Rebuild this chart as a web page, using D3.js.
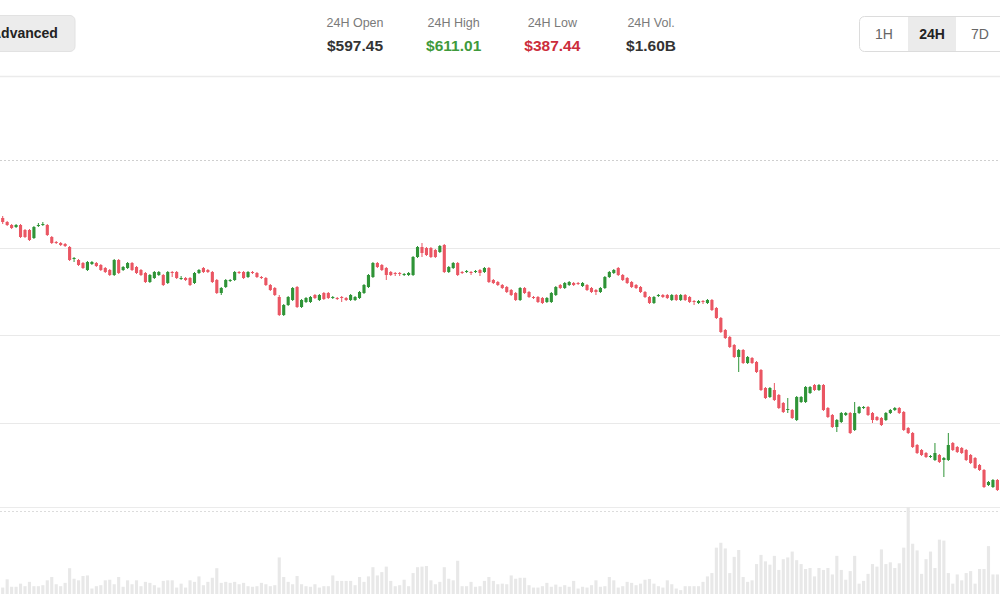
<!DOCTYPE html>
<html>
<head>
<meta charset="utf-8">
<script src="https://cdn.jsdelivr.net/npm/d3@7"></script>
<style>
    body { margin: 0; background: #fff; font-family: "Liberation Sans", Arial, Helvetica, sans-serif; }
    #chart { width: 1000px; height: 600px; overflow: hidden; }
</style>
</head>
<body>
<div id="chart"></div>
<script>
// header numbers
const statLabels = ["24H Open", "24H High", "24H Low", "24H Vol."];
const statValues = ["$597.45", "$611.01", "$387.44", "$1.60B"];
const statColors = ["#333333", "#3f9a3c", "#cc2d3b", "#333333"];
const rangeButtons = ["1H", "24H", "7D"];
const activeRange = "24H";

// price levels of the grid (no labels shown in the crop)
const gridPrices = [560, 525, 490];
const topPrice = 595;

// 5 min candles: [open, high, low, close]
const ohlc = [
    [571.8, 572.6, 569.4, 570.2], [570.2, 570.6, 568.6, 569], [569, 569.4, 567.4, 567.8], [568.2, 569.4, 567.8, 569],
    [569, 569.4, 563.8, 564.2], [567, 567.4, 563.8, 564.2], [567, 567.4, 562.6, 563], [563.8, 568.6, 563.4, 568.2],
    [568.6, 569.8, 568.2, 569], [569, 570.2, 568.6, 569.4], [569, 569.4, 564.6, 565], [564.2, 564.6, 561.4, 561.8],
    [562.2, 562.6, 561.4, 561.8], [561.8, 562.2, 560.6, 561], [561.4, 561.8, 560.2, 560.6], [560.2, 560.6, 554.6, 555],
    [555.4, 556.2, 554.2, 555.8], [555, 555.4, 552.6, 553], [553.8, 554.2, 551.4, 551.8], [551, 554.6, 550.6, 554.2],
    [553.4, 554.6, 553, 554.2], [553.8, 554.2, 552.2, 552.6], [553, 553.4, 550.6, 551], [551.8, 552.2, 549.8, 550.2],
    [551, 551.4, 548.6, 549], [549, 555.4, 548.6, 555], [555, 555.4, 549.4, 549.8], [551, 552.6, 550.6, 552.2],
    [551.8, 554.2, 551.4, 553.8], [553.8, 554.2, 550.6, 551], [552.2, 552.6, 549.4, 549.8], [551, 551.4, 548.6, 549],
    [549.8, 550.2, 545.8, 546.2], [546.2, 549.4, 545.8, 549], [547.8, 550.6, 547.4, 550.2], [549, 550.6, 548.6, 550.2],
    [549, 549.4, 544.6, 545], [545.8, 550.6, 545.4, 550.2], [550.2, 550.6, 548.2, 549.8], [550.2, 550.6, 547.4, 547.8],
    [547.4, 548.6, 547, 547.8], [547.8, 548.2, 546.6, 547], [547.8, 548.2, 544.6, 545], [545.8, 550.2, 545.4, 549.8],
    [549.8, 551.4, 549.4, 551], [551.8, 552.2, 549.8, 550.2], [551, 551.4, 549.8, 550.2], [550.2, 550.6, 545.8, 546.2],
    [547, 547.4, 541.4, 541.8], [541.8, 544.2, 541, 543.8], [544.2, 547.4, 543.8, 547], [546.6, 547.4, 546.2, 547],
    [547, 550.6, 546.6, 550.2], [550.2, 550.6, 549.4, 549.8], [550.2, 550.6, 547.4, 547.8], [548.2, 550.6, 547.8, 550.2],
    [550.2, 550.6, 549.4, 549.8], [549.8, 550.2, 547.8, 548.2], [548.2, 548.6, 547.4, 547.8], [547.8, 548.2, 544.6, 545],
    [545, 545.4, 542.6, 543], [543.8, 544.2, 540.6, 541], [540.2, 541, 532.6, 533], [533, 537.4, 532.6, 537],
    [537, 540.6, 536.6, 540.2], [539, 544.2, 538.6, 543.8], [544.2, 544.6, 535.8, 536.2], [536.2, 539.4, 535.8, 539],
    [538.2, 540.2, 537.8, 539.8], [538.2, 540.6, 537.8, 540.2], [541, 541.4, 539.4, 539.8], [539, 541.4, 538.6, 541],
    [541.8, 542.2, 539, 539.4], [541.8, 542.2, 539.4, 539.8], [539.8, 540.6, 539.4, 540.2], [539.8, 540.2, 539, 539.4],
    [540.2, 540.6, 538.2, 539.8], [539.8, 540.2, 538.6, 539], [539, 541.4, 538.6, 541], [539, 540.6, 538.6, 540.2],
    [539.8, 542.6, 539.4, 542.2], [541.8, 545.4, 541.4, 545], [544.2, 549.4, 543.8, 549], [548.2, 554.2, 547.8, 553.8],
    [553.8, 554.2, 551.8, 552.2], [553, 553.4, 550.6, 551], [551.8, 552.2, 547, 549], [550.2, 550.6, 548.6, 549],
    [549.8, 550.2, 548.6, 549.4], [549.8, 550.2, 548.6, 549.4], [549, 549.8, 548.6, 549.4], [549, 550.2, 548.6, 549.8],
    [549, 556.6, 548.6, 556.2], [556.2, 560.6, 555.8, 560.2], [560.2, 561.8, 556.2, 557.8], [559.8, 560.2, 556.6, 557],
    [559.8, 560.2, 555.8, 556.2], [559, 559.4, 555.8, 556.2], [558.2, 561, 557.8, 560.6], [561, 561.4, 549.8, 550.2],
    [550.2, 552.6, 549.8, 552.2], [551.8, 554.2, 551.4, 553.8], [553.8, 554.2, 548.6, 549], [550.2, 550.6, 549.4, 549.8],
    [550.2, 551, 549.8, 550.6], [550.2, 550.6, 549, 549.8], [550.2, 551, 549.8, 550.6], [551, 551.4, 548.6, 549.8],
    [550.2, 552.2, 549.8, 551.8], [551.8, 552.2, 545.8, 546.2], [547, 547.4, 545.4, 545.8], [546.2, 546.6, 544.6, 545],
    [545, 545.4, 543.4, 543.8], [544.2, 544.6, 541.8, 542.2], [543, 543.4, 540.6, 541], [541.8, 542.2, 538.6, 539],
    [539, 544.2, 538.6, 543.8], [543.8, 544.2, 541.4, 541.8], [542.2, 542.6, 539.8, 540.2], [540.2, 540.6, 539.4, 539.8],
    [540.2, 540.6, 537.8, 538.2], [539.8, 540.2, 537.4, 537.8], [538.2, 540.2, 537.8, 539.8], [538.2, 542.2, 537.8, 541.8],
    [541, 544.6, 540.6, 544.2], [545, 545.4, 543.4, 543.8], [543.8, 546.2, 543.4, 545.8], [545, 546.6, 544.6, 546.2],
    [545.8, 546.2, 544.6, 545], [545.8, 546.2, 545, 545.4], [544.6, 546.2, 544.2, 545.8], [545, 545.4, 542.6, 543],
    [543.8, 544.2, 541.8, 542.2], [543, 543.4, 541, 542.2], [542.2, 544.2, 541.8, 543.8], [543.8, 548.6, 543.4, 548.2],
    [548.2, 550.6, 547.8, 550.2], [549.8, 551.4, 549.4, 551], [551.8, 552.2, 548.6, 549], [549, 549.4, 546.6, 547],
    [547.8, 548.2, 545.4, 545.8], [546.2, 546.6, 543.8, 544.2], [545, 545.4, 543.4, 543.8], [544.2, 544.6, 541.8, 542.2],
    [542.2, 542.6, 539.8, 540.2], [540.2, 540.6, 537.4, 537.8], [537.8, 540.6, 537.4, 540.2], [540.6, 541.4, 540.2, 541],
    [541, 541.4, 539.8, 540.2], [541, 541.4, 539.4, 539.8], [539, 541.4, 538.6, 541], [541, 541.4, 538.6, 539],
    [539, 541.4, 538.6, 541], [541, 541.4, 538.6, 539], [540.2, 540.6, 537.8, 538.2], [538.6, 539, 537, 538.2],
    [537.8, 539, 537.4, 538.6], [538.6, 539, 537.4, 538.2], [537.8, 539.4, 537.4, 539], [539, 539.4, 534.6, 535],
    [535.8, 536.2, 531.4, 531.8], [531.8, 532.2, 525.8, 526.2], [527, 527.4, 523.4, 523.8], [524.2, 524.6, 519.8, 520.2],
    [521, 521.4, 515.8, 516.2], [516.2, 519.4, 510.2, 519], [519, 519.4, 513.4, 513.8], [513.8, 516.6, 513.4, 516.2],
    [515.8, 516.2, 513.4, 513.8], [514.2, 514.6, 509.8, 510.2], [511, 511.4, 502.6, 503], [503.8, 504.2, 499.4, 499.8],
    [500.2, 504.2, 499.8, 503.8], [503, 505.8, 498.6, 499], [501, 501.4, 495.4, 495.8], [497.8, 498.2, 493.8, 494.2],
    [495, 499.8, 493.8, 495.4], [495, 495.4, 491.4, 491.8], [491, 500.6, 490.6, 500.2], [498.2, 500.6, 497.8, 500.2],
    [498.2, 504.6, 497.8, 504.2], [501.8, 504.6, 501.4, 504.2], [505, 505.4, 502.6, 503], [503, 505.4, 502.6, 505],
    [505, 505.4, 494.6, 495], [495.8, 496.2, 491.8, 492.2], [493, 493.4, 487.8, 488.2], [488.2, 491.4, 486.2, 491],
    [490.2, 494.2, 489.8, 493.8], [493, 494.2, 492.6, 493.8], [493.8, 494.2, 485.4, 485.8], [487, 498.2, 486.6, 493.8],
    [493.8, 496.6, 493.4, 496.2], [495.8, 496.6, 495.4, 496.2], [496.2, 496.6, 492.6, 493], [493.8, 494.2, 489.8, 491],
    [492.2, 492.6, 490.6, 491], [491.8, 492.2, 488.6, 489], [491, 494.2, 490.6, 493.8], [493.8, 495.4, 493.4, 495],
    [495, 496.2, 494.6, 495.8], [495.8, 496.2, 493.4, 493.8], [494.2, 494.6, 486.6, 487], [487.8, 488.2, 485.4, 485.8],
    [485.8, 486.2, 479.8, 480.2], [481, 481.4, 477.4, 477.8], [479, 479.4, 476.6, 477], [477.8, 478.2, 475.8, 476.2],
    [476.2, 477, 475.8, 476.6], [475, 481.8, 474.6, 477.8], [477, 477.4, 473.8, 474.2], [475, 476.2, 468.2, 475.8],
    [475, 485.8, 474.6, 481], [481.8, 482.2, 478.6, 479], [480.2, 480.6, 477.8, 478.2], [479.8, 480.2, 477.4, 477.8],
    [479, 479.4, 474.6, 475], [477, 477.4, 473.4, 473.8], [475.8, 476.2, 471.4, 471.8], [473, 473.4, 470.6, 471],
    [471, 471.4, 463.8, 464.2], [465, 466.6, 464.6, 466.2], [464.2, 467.4, 463.8, 467], [467, 467.4, 462.6, 463]
];

// volume per candle, $M
const volumes = [
    3.3, 7.5, 3.7, 3.7, 5.3, 4, 6.2, 4, 4, 4.5,
    7, 8.7, 5, 4, 5.7, 13.2, 7.8, 7, 9.2, 9.5,
    2.8, 4, 4.5, 7, 7.3, 5, 8.7, 3.7, 7, 5,
    7, 4, 6.2, 5.7, 4.5, 3.3, 6.7, 7, 7, 3.3,
    5.3, 3.3, 7, 6.2, 9, 4.5, 6.2, 8.3, 13.2, 5.7,
    6.2, 5.7, 6.2, 5, 5.7, 4, 3.7, 4, 5.7, 5,
    4, 4.5, 18.7, 8.7, 6.2, 5, 9.2, 5, 4, 3.7,
    5, 3.3, 4, 4, 9.5, 6.7, 6.7, 6.7, 6.7, 4.5,
    8.7, 6.2, 9, 13.7, 9.5, 11.2, 14, 6.7, 4, 4.5,
    7.3, 4, 10.7, 13.7, 14, 14.3, 7, 5, 6.2, 13.7,
    7.8, 7, 17, 4, 4, 6.2, 3.7, 4, 6.7, 8.7,
    6.7, 5,
    5.3, 5, 9.5, 7.8, 8.3, 8.3, 4.5, 3.3, 3.3, 4,
    5.7, 3.7, 4.8, 3.7, 4.5, 3.7, 6.7, 2.8, 3.7, 3.3,
    4.5, 7, 3.7, 4, 8.7, 7, 3.3, 4, 6.2, 5.7,
    4.5, 5.3, 7.3, 7.7, 5.3, 4, 3.3, 7, 5, 2.8,
    2, 4, 4, 4, 4, 6.2, 9, 10.7, 23.7, 26.2,
    23.3, 10.7, 19, 22.5, 8.7, 6.2, 7, 15.3, 20, 16.7,
    15, 19.5, 12.3, 17.8, 18.7, 21.7, 17.3, 15.3, 12.8, 13.3,
    9, 13.3, 12.3, 13.3, 10, 19.5, 12.3, 7.3, 11.7, 19.5,
    5.3, 6.7, 10.3, 15.3, 14, 22.8, 15.3, 16.2, 13.3, 15.7,
    23.7, 44.5, 25.7, 22.3, 10.3, 17.8, 21.7, 13.3, 27.8, 27.3,
    10.7, 5.3, 10, 7, 10.7, 11.7, 5.3, 12.8, 12.8, 24.5,
    10, 10
];

class CandleVis {

    constructor(parentElement, ohlc, volumes) {
        this.parentElement = parentElement;
        this.ohlc = ohlc;
        this.volumes = volumes;

        this.initVis();
    }

    initVis() {
        let vis = this;

        vis.width = 1000;
        vis.height = 600;
        vis.up = "#2f9437";
        vis.down = "#ea5663";

        vis.svg = d3.select("#" + vis.parentElement).append("svg")
            .attr("width", vis.width)
            .attr("height", vis.height)
            .style("display", "block");

        // header
        let header = vis.svg.append("g").attr("class", "header");

        header.append("rect")
            .attr("x", -30).attr("y", 15.5)
            .attr("width", 105).attr("height", 36)
            .attr("rx", 5)
            .attr("fill", "#ececec")
            .attr("stroke", "#e2e2e2");

        header.append("text")
            .attr("x", -9).attr("y", 38)
            .attr("font-size", 14)
            .attr("font-weight", "bold")
            .attr("fill", "#222")
            .text("Advanced");

        vis.statX = d3.scalePoint()
            .domain(statLabels)
            .range([355, 651]);

        let stats = header.selectAll(".stat")
            .data(statLabels)
            .enter().append("g")
            .attr("class", "stat")
            .attr("transform", d => `translate(${vis.statX(d)},0)`);

        stats.append("text")
            .attr("y", 27)
            .attr("text-anchor", "middle")
            .attr("font-size", 12.5)
            .attr("fill", "#7a7a7a")
            .text(d => d);

        stats.append("text")
            .attr("y", 51)
            .attr("text-anchor", "middle")
            .attr("font-size", 15.5)
            .attr("font-weight", "bold")
            .attr("fill", (d, i) => statColors[i])
            .text((d, i) => statValues[i]);

        // range buttons
        vis.btnX = d3.scaleBand()
            .domain(rangeButtons)
            .range([860, 1004]);

        header.append("rect")
            .attr("x", 859.5).attr("y", 16.5)
            .attr("width", 170).attr("height", 35)
            .attr("rx", 5)
            .attr("fill", "#fff")
            .attr("stroke", "#dcdcdc");

        header.append("rect")
            .attr("x", vis.btnX(activeRange)).attr("y", 17)
            .attr("width", vis.btnX.bandwidth()).attr("height", 34)
            .attr("fill", "#ebebeb");

        header.selectAll(".btn")
            .data(rangeButtons)
            .enter().append("text")
            .attr("class", "btn")
            .attr("x", d => vis.btnX(d) + vis.btnX.bandwidth() / 2)
            .attr("y", 39)
            .attr("text-anchor", "middle")
            .attr("font-size", 14)
            .attr("font-weight", d => d === activeRange ? "bold" : "normal")
            .attr("fill", d => d === activeRange ? "#222" : "#666")
            .text(d => d);

        header.append("line")
            .attr("x1", 0).attr("x2", vis.width)
            .attr("y1", 76.5).attr("y2", 76.5)
            .attr("stroke", "#ebebeb")
            .attr("stroke-width", 1.5);

        // scales
        vis.x = d3.scaleBand()
            .domain(d3.range(vis.ohlc.length))
            .range([-0.2, 1000.3])
            .padding(0.3);

        vis.y = d3.scaleLinear()
            .domain([455, 595])
            .range([510, 160]);

        vis.vy = d3.scaleLinear()
            .domain([0, 45])
            .range([594, 506]);

        // grid
        vis.svg.append("line")
            .attr("x1", 0).attr("x2", vis.width)
            .attr("y1", Math.round(vis.y(topPrice)) + 0.5)
            .attr("y2", Math.round(vis.y(topPrice)) + 0.5)
            .attr("stroke", "#cfcfcf")
            .attr("stroke-dasharray", "2,2");

        vis.svg.selectAll(".grid")
            .data(gridPrices)
            .enter().append("line")
            .attr("class", "grid")
            .attr("x1", 0).attr("x2", vis.width)
            .attr("y1", d => Math.round(vis.y(d)) + 0.5)
            .attr("y2", d => Math.round(vis.y(d)) + 0.5)
            .attr("stroke", "#e9e9e9");

        // pane split between price and volume
        vis.svg.append("line")
            .attr("x1", 0).attr("x2", vis.width)
            .attr("y1", 507.5).attr("y2", 507.5)
            .attr("stroke", "#ebebeb");

        vis.svg.append("line")
            .attr("x1", 0).attr("x2", vis.width)
            .attr("y1", 511.5).attr("y2", 511.5)
            .attr("stroke", "#dcdcdc")
            .attr("stroke-dasharray", "2,2");

        vis.updateVis();
    }

    updateVis() {
        let vis = this;
        let bw = vis.x.bandwidth();

        // volume bars
        vis.svg.append("g").attr("class", "volume")
            .selectAll("rect")
            .data(vis.volumes)
            .enter().append("rect")
            .attr("x", (d, i) => vis.x(i))
            .attr("width", bw)
            .attr("y", d => vis.vy(d))
            .attr("height", d => vis.vy(0) - vis.vy(d))
            .attr("fill", "#e8e8e8");

        let candles = vis.svg.append("g").attr("class", "candles")
            .selectAll("g")
            .data(vis.ohlc)
            .enter().append("g")
            .attr("fill", d => d[3] >= d[0] ? vis.up : vis.down)
            .attr("stroke", d => d[3] >= d[0] ? vis.up : vis.down);

        candles.append("line")
            .attr("x1", (d, i) => vis.x(i) + bw / 2)
            .attr("x2", (d, i) => vis.x(i) + bw / 2)
            .attr("y1", d => vis.y(d[1]))
            .attr("y2", d => vis.y(d[2]))
            .attr("stroke-width", 1);

        candles.append("rect")
            .attr("x", (d, i) => vis.x(i))
            .attr("width", bw)
            .attr("y", d => vis.y(Math.max(d[0], d[3])))
            .attr("height", d => Math.max(1, Math.abs(vis.y(d[0]) - vis.y(d[3]))))
            .attr("stroke", "none");
    }
}

new CandleVis("chart", ohlc, volumes);
</script>
</body>
</html>
